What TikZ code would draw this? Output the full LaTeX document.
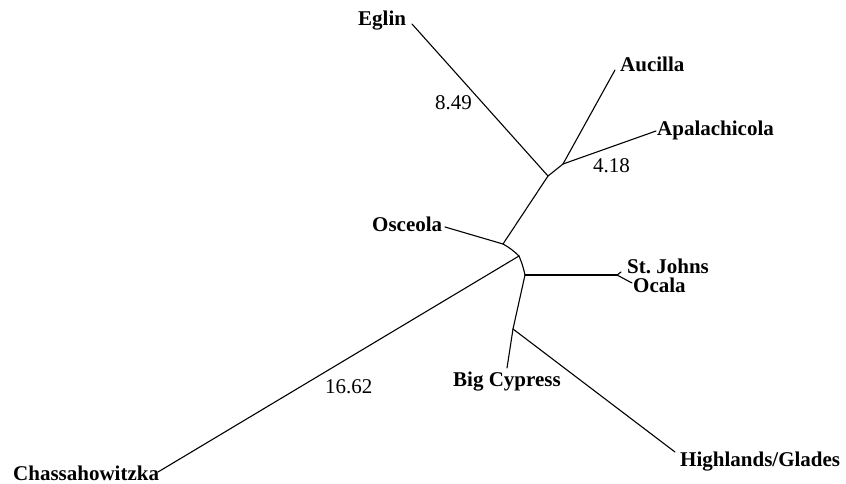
\documentclass[tikz,border=0pt]{standalone}
\usepackage{fontspec}
\setmainfont{Liberation Serif}
\begin{document}
\begin{tikzpicture}[x=1pt,y=-1pt,
  taxon/.style={font=\fontsize{21}{21}\selectfont\bfseries, inner sep=0pt, anchor=base west},
  blen/.style={font=\fontsize{21}{21}\selectfont, inner sep=0pt, anchor=base west},
  branch/.style={line width=1.1pt, line join=round, line cap=round}]
\useasboundingbox (0,0) rectangle (846,484);
% internal nodes
\coordinate (A) at (548,176);
\coordinate (B) at (563,164);
\coordinate (C) at (503,244);
\coordinate (D) at (519,256);
\coordinate (E) at (525,275);
\coordinate (F) at (513,329);
\coordinate (G) at (617,275);
% leaf ends
\coordinate (eglinE) at (412,24);
\coordinate (aucE) at (615,70);
\coordinate (apaE) at (656,131);
\coordinate (oscE) at (445,227);
\coordinate (sjE) at (621,272);
\coordinate (ocaE) at (632,283);
\coordinate (bcE) at (507,368);
\coordinate (hgE) at (675,452);
\coordinate (chE) at (158,472);
% labels
\node[taxon] (eglin) at (358,26) {Eglin};
\node[taxon] (auc) at (620,72) {Aucilla};
\node[taxon] (apa) at (657,136) {Apalachicola};
\node[taxon] (osc) at (372,231) {Osceola};
\node[taxon] (sj) at (627,273) {St.~Johns};
\node[taxon] (oca) at (633,292) {Ocala};
\node[taxon] (bc) at (453,386) {Big Cypress};
\node[taxon] (hg) at (680,466) {Highlands/Glades};
\node[taxon] (ch) at (13,480) {Chassahowitzka};
\node[blen] (l1) at (435,110) {8.49};
\node[blen] (l2) at (593,172) {4.18};
\node[blen] (l3) at (325,393) {16.62};
% branches
\draw[branch] (eglinE) -- (A);
\draw[branch] (A) -- (B);
\draw[branch] (B) -- (aucE);
\draw[branch] (B) -- (apaE);
\draw[branch] (A) -- (C);
\draw[branch] (oscE) -- (C);
\draw[branch] (C) to[bend left=7] (D);
\draw[branch] (D) to[bend left=5] (E);
\draw[branch] (chE) -- (D);
\draw[branch] (E) -- (G);
\draw[branch] (G) -- (sjE);
\draw[branch] (G) -- (ocaE);
\draw[branch] (E) -- (F);
\draw[branch] (F) -- (bcE);
\draw[branch] (F) -- (hgE);
\end{tikzpicture}
\end{document}
